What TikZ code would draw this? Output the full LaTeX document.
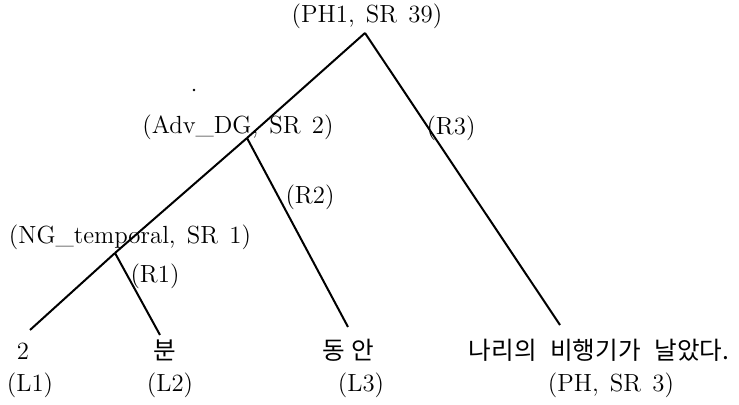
\documentclass[tikz,border=0pt]{standalone}
\usepackage{fontspec}
\newfontfamily\kr{Noto Sans CJK KR}
\newcommand\lblfont{\fontsize{12.4}{14}\selectfont\spaceskip=0.45em plus 0.1em\relax}
\newcommand\korfont{\kr\fontsize{12.3}{14}\selectfont}
\begin{document}
\begin{tikzpicture}[x=0.5pt,y=-0.5pt,
  lbl/.style={inner sep=0pt, font=\lblfont},
  kor/.style={inner sep=0pt, font=\korfont},
  branch/.style={line width=1pt}]
\useasboundingbox (0,0) rectangle (739,405);
% junctions and leaf ends
\coordinate (A) at (365,33);
\coordinate (J2) at (247,138);
\coordinate (J1) at (115,253);
\coordinate (E1) at (30,330);
\coordinate (E2) at (160,335);
\coordinate (E3) at (348,327);
\coordinate (E4) at (560,325);
% branches
\draw[branch] (A) -- (J2);
\draw[branch] (A) -- (E4);
\draw[branch] (J2) -- (J1);
\draw[branch] (J2) -- (E3);
\draw[branch] (J1) -- (E1);
\draw[branch] (J1) -- (E2);
% labels
\node[lbl] (t0) at (367,16) {(PH1, SR 39)};
\node[lbl] (t1) at (238,127) {(Adv\_DG, SR 2)};
\node[lbl] (t2) at (130,237) {(NG\_temporal, SR 1)};
\node[lbl] (r3) at (451,128) {(R3)};
\node[lbl] (r2) at (310,197) {(R2)};
\node[lbl] (r1) at (155,276) {(R1)};
\node[lbl] (w1) at (23,351) {2};
\node[kor] (w2) at (165,350) {분};
\node[kor] (w3) at (348,350) {동\hspace{0.25em}안};
\node[kor] (w4) at (599,350) {나리의\hspace{0.55em}비행기가\hspace{0.55em}날았다.};
\node[lbl] (l1) at (30,385) {(L1)};
\node[lbl] (l2) at (170,385) {(L2)};
\node[lbl] (l3) at (361,385) {(L3)};
\node[lbl] (l4) at (611,385) {(PH, SR 3)};
\fill (194,90) circle (1.4);
\end{tikzpicture}
\end{document}
